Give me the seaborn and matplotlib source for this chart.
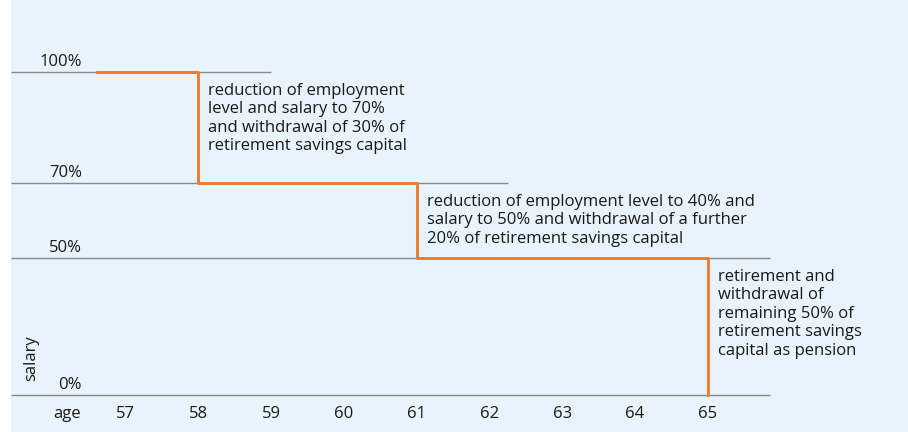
import numpy as np
import pandas as pd
import matplotlib
matplotlib.use("Agg")
import matplotlib.pyplot as plt
import seaborn as sns

# ages on the x axis
ages = [57, 58, 59, 60, 61, 62, 63, 64, 65]

# salary path (steps)
step_age = [56.6, 58, 61, 65]
step_salary = [100, 70, 50, 0]

# reference levels and how far their lines reach
levels = [100, 70, 50, 0]
level_labels = ["100%", "70%", "50%", "0%"]
level_end = [59, 62.25, 65.85, 65.85]

notes = [
    "reduction of employment\nlevel and salary to 70%\nand withdrawal of 30% of\nretirement savings capital",
    "reduction of employment level to 40% and\nsalary to 50% and withdrawal of a further\n20% of retirement savings capital",
    "retirement and\nwithdrawal of\nremaining 50% of\nretirement savings\ncapital as pension",
]
note_age = [58, 61, 65]
note_level = [100, 70, 50]

# the y axis is not linear in the original, piecewise mapping
kv = [-1000, 0, 50, 70, 100, 1000]
kp = [-2740, 0, 137, 212, 323, 323 + 900 * 3.7]

def fwd(v):
    return np.interp(v, kv, kp)

def inv(p):
    return np.interp(p, kp, kv)

df = pd.DataFrame({"age": step_age, "salary": step_salary})

plt.rcParams["font.family"] = ["Open Sans", "DejaVu Sans"]
txt_color = "#1a1a1a"
fs = 12

fig = plt.figure(figsize=(9.08, 4.32), dpi=100)
ax = fig.add_axes([11 / 908, 0, 897 / 908, 1])
ax.set_facecolor("#E8F3FB")
ax.set_yscale("function", functions=(fwd, inv))
x0 = 57 - (125.7 - 11) / 72.75
x1 = 57 + (908 - 125.7) / 72.75
ax.set_xlim(x0, x1)
ax.set_ylim(float(inv(-37)), float(inv(395)))

ax.hlines(levels, x0, level_end, color="#8a8a8a", lw=1, zorder=1)
sns.lineplot(data=df, x="age", y="salary", drawstyle="steps-post",
             color="#EF7B2F", lw=2.1, ax=ax, zorder=2)

for lv, lab in zip(levels, level_labels):
    ax.annotate(lab, xy=(56.4, lv), xytext=(0, 6), textcoords="offset pixels",
                ha="right", va="baseline", fontsize=fs, color=txt_color)

for a in ages:
    ax.annotate(str(a), xy=(a, 0), xytext=(0, -19), textcoords="offset pixels",
                ha="center", va="center", fontsize=fs, color=txt_color)
ax.annotate("age", xy=(56.19, 0), xytext=(0, -19), textcoords="offset pixels",
            ha="center", va="center", fontsize=fs, color=txt_color)
ax.annotate("salary", xy=(55.7, 0), xytext=(0, 37), textcoords="offset pixels",
            ha="center", va="center", rotation=90, fontsize=fs, color=txt_color)

for note, a, lv in zip(notes, note_age, note_level):
    ax.annotate(note, xy=(a, lv), xytext=(10, -11), textcoords="offset pixels",
                ha="left", va="top", fontsize=fs, color=txt_color, linespacing=1.2)

ax.set_xticks([])
ax.set_yticks([])
ax.set_xlabel("")
ax.set_ylabel("")
for s in ax.spines.values():
    s.set_visible(False)

fig.savefig("out.png", dpi=100)
